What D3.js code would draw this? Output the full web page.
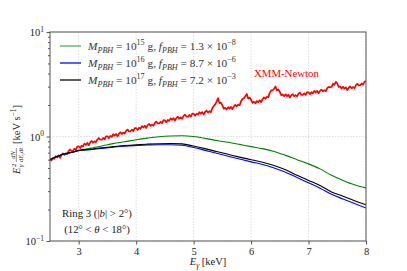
<!DOCTYPE html>
<html><head><meta charset="utf-8">
<script src="https://cdn.jsdelivr.net/npm/d3@7"></script>
<style>
html,body{margin:0;padding:0;background:#fff;}
svg{display:block;}
text{font-family:"Liberation Serif","DejaVu Serif",serif;}
</style></head>
<body>
<svg id="c" width="407" height="271"></svg>
<script>
// ---------- data ----------
const xTicks = [3, 4, 5, 6, 7, 8];
const yMajorTicks = [0.1, 1, 10];
const yTickExp = ["−1", "0", "1"];

// XMM-Newton spectrum (energy keV, value)
const xmmEnergy = [2.5,2.525,2.55,2.575,2.6,2.625,2.65,2.675,2.7,2.725,2.75,2.775,2.8,2.825,2.85,2.875,2.9,2.925,2.95,2.975,
3.0,3.025,3.05,3.075,3.1,3.125,3.15,3.175,3.2,3.225,3.25,3.275,3.3,3.325,3.35,3.375,3.4,3.425,3.45,3.475,
3.5,3.525,3.55,3.575,3.6,3.625,3.65,3.675,3.7,3.725,3.75,3.775,3.8,3.825,3.85,3.875,3.9,3.925,3.95,3.975,
4.0,4.025,4.05,4.075,4.1,4.125,4.15,4.175,4.2,4.225,4.25,4.275,4.3,4.325,4.35,4.375,4.4,4.425,4.45,4.475,
4.5,4.525,4.55,4.575,4.6,4.625,4.65,4.675,4.7,4.725,4.75,4.775,4.8,4.825,4.85,4.875,4.9,4.925,4.95,4.975,
5.0,5.025,5.05,5.075,5.1,5.125,5.15,5.175,5.2,5.225,5.25,5.275,5.3,5.325,5.35,5.375,5.4,5.425,5.45,5.475,
5.5,5.525,5.55,5.575,5.6,5.625,5.65,5.675,5.7,5.725,5.75,5.775,5.8,5.825,5.85,5.875,5.9,5.925,5.95,5.975,
6.0,6.025,6.05,6.075,6.1,6.125,6.15,6.175,6.2,6.225,6.25,6.275,6.3,6.325,6.35,6.375,6.4,6.425,6.45,6.475,
6.5,6.525,6.55,6.575,6.6,6.625,6.65,6.675,6.7,6.725,6.75,6.775,6.8,6.825,6.85,6.875,6.9,6.925,6.95,6.975,
7.0,7.025,7.05,7.075,7.1,7.125,7.15,7.175,7.2,7.225,7.25,7.275,7.3,7.325,7.35,7.375,7.4,7.425,7.45,7.475,
7.5,7.525,7.55,7.575,7.6,7.625,7.65,7.675,7.7,7.725,7.75,7.775,7.8,7.825,7.85,7.875,7.9,7.925,7.95,7.975,8.0];
const xmmValue = [0.612,0.589,0.621,0.610,0.649,0.631,0.658,0.626,0.667,0.690,0.666,0.690,0.679,0.725,0.751,0.727,0.730,0.764,0.744,0.802,
0.806,0.776,0.818,0.804,0.855,0.832,0.867,0.826,0.879,0.906,0.872,0.900,0.883,0.938,0.967,0.931,0.931,0.968,0.938,1.005,
1.005,0.964,1.013,0.991,1.051,1.019,1.058,1.004,1.066,1.098,1.056,1.089,1.067,1.132,1.165,1.119,1.117,1.162,1.125,1.205,
1.204,1.154,1.212,1.186,1.257,1.220,1.270,1.207,1.283,1.318,1.264,1.300,1.271,1.349,1.388,1.334,1.333,1.384,1.339,1.432,
1.428,1.370,1.439,1.409,1.494,1.445,1.499,1.421,1.505,1.545,1.480,1.520,1.484,1.573,1.617,1.552,1.548,1.606,1.552,1.658,
1.652,1.581,1.656,1.617,1.710,1.653,1.714,1.622,1.717,1.766,1.695,1.745,1.707,1.867,1.957,2.030,2.156,2.326,2.086,2.112,
1.989,1.848,1.879,1.818,1.906,1.849,1.923,1.826,1.939,2.011,1.945,2.018,1.989,2.178,2.287,2.327,2.430,2.550,2.309,2.359,
2.244,2.100,2.151,2.083,2.184,2.131,2.229,2.129,2.273,2.369,2.303,2.400,2.377,2.616,2.760,2.772,2.862,3.009,2.765,2.817,
2.672,2.483,2.525,2.430,2.534,2.435,2.509,2.362,2.485,2.544,2.430,2.490,2.425,2.563,2.626,2.512,2.499,2.588,2.498,2.665,
2.652,2.534,2.651,2.585,2.730,2.638,2.734,2.587,2.737,2.814,2.700,2.778,2.716,2.907,2.987,2.945,2.989,3.198,3.123,3.337,
3.213,2.973,3.010,2.881,2.987,2.871,2.958,2.784,2.929,3.013,2.891,2.975,2.910,3.098,3.198,3.081,3.087,3.219,3.128,3.360,3.366];

// PBH model curves
const modelEnergy = [2.5,2.6,2.7,2.8,2.9,3.0,3.2,3.4,3.6,3.8,4.0,4.2,4.4,4.6,4.8,5.0,5.2,5.4,5.6,5.8,6.0,6.2,6.4,6.6,6.8,7.0,7.2,7.4,7.6,7.8,8.0];
const pbh15 = [0.60,0.635,0.67,0.69,0.71,0.737,0.77,0.81,0.855,0.89,0.93,0.965,0.995,1.012,1.018,1.0,0.96,0.915,0.88,0.84,0.80,0.765,0.72,0.66,0.60,0.547,0.49,0.425,0.38,0.345,0.322];
const pbh16 = [0.60,0.635,0.67,0.69,0.708,0.73,0.748,0.77,0.79,0.808,0.82,0.83,0.835,0.835,0.825,0.785,0.737,0.69,0.648,0.608,0.572,0.54,0.50,0.455,0.405,0.36,0.32,0.28,0.252,0.228,0.207];
const pbh17 = [0.60,0.635,0.67,0.69,0.71,0.735,0.755,0.78,0.80,0.82,0.835,0.845,0.853,0.857,0.85,0.81,0.765,0.718,0.675,0.635,0.60,0.567,0.528,0.48,0.425,0.38,0.34,0.295,0.268,0.243,0.222];

const seriesNames = [
  {mass:"15", f:"1.3", fexp:"−8", color:"#008000", data:pbh15},
  {mass:"16", f:"8.7", fexp:"−6", color:"#0000ff", data:pbh16},
  {mass:"17", f:"7.2", fexp:"−3", color:"#000000", data:pbh17}
];

// ---------- drawing ----------
const svg = d3.select("#c");
const L = 50, R = 366, T = 32, B = 241;
const x = d3.scaleLinear().domain([2.5, 8]).range([L, R]);
const y = d3.scaleLog().domain([0.1, 10]).range([B, T]);

const defs = svg.append("defs");
defs.append("clipPath").attr("id","clip").append("rect")
  .attr("x", L).attr("y", T).attr("width", R - L).attr("height", B - T);

// grid
const grid = svg.append("g").attr("stroke","#d4d4d4").attr("stroke-width",0.8).attr("stroke-dasharray","1.5,1.5");
xTicks.forEach(t => grid.append("line").attr("x1", x(t)).attr("x2", x(t)).attr("y1", T).attr("y2", B));
yMajorTicks.forEach(t => grid.append("line").attr("x1", L).attr("x2", R).attr("y1", y(t)).attr("y2", y(t)));

// data lines
const plot = svg.append("g").attr("clip-path","url(#clip)");
const xmmPts = xmmEnergy.map((e,i)=>[e, xmmValue[i]]);
plot.append("path").datum(xmmPts)
  .attr("fill","none").attr("stroke","#ff0000").attr("stroke-width",1.7).attr("stroke-linejoin","round")
  .attr("d", d3.line().x(d=>x(d[0])).y(d=>y(d[1])));

const modelLine = d3.line().x(d=>x(d[0])).y(d=>y(d[1])).curve(d3.curveMonotoneX);
seriesNames.forEach(s => {
  plot.append("path").datum(modelEnergy.map((e,i)=>[e, s.data[i]]))
    .attr("fill","none").attr("stroke", s.color).attr("stroke-width",1.1)
    .attr("d", modelLine);
});

// axes
const axisColor = "#555";
const xAxis = svg.append("g").attr("transform",`translate(0,${B})`)
  .call(d3.axisBottom(x).tickValues(xTicks).tickSize(3.5).tickPadding(3).tickFormat(d3.format("d")));
xAxis.select(".domain").remove();
xAxis.selectAll("line").attr("stroke", axisColor);
xAxis.selectAll("text").attr("font-size",10.5).attr("fill","#222").attr("font-family","Liberation Serif");

const minor = [];
[0.1, 1].forEach(d => { for (let k = 2; k <= 9; k++) minor.push(d * k); });
const yMinor = svg.append("g").attr("transform",`translate(${L},0)`)
  .call(d3.axisLeft(y).tickValues(minor).tickSize(2).tickFormat(""));
yMinor.select(".domain").remove();
yMinor.selectAll("line").attr("stroke", axisColor);

const yAxis = svg.append("g").attr("transform",`translate(${L},0)`)
  .call(d3.axisLeft(y).tickValues(yMajorTicks).tickSize(3.5).tickFormat(""));
yAxis.select(".domain").remove();
yAxis.selectAll("line").attr("stroke", axisColor);
yMajorTicks.forEach((t,i) => {
  const tx = svg.append("text").attr("x", L - 6).attr("y", y(t) + 4).attr("text-anchor","end")
    .attr("font-size",10.5).attr("fill","#222");
  tx.append("tspan").text("10");
  tx.append("tspan").attr("dy",-4.5).attr("font-size",7.5).text(yTickExp[i]);
});

// frame
svg.append("rect").attr("x", L).attr("y", T).attr("width", R - L).attr("height", B - T)
  .attr("fill","none").attr("stroke", axisColor).attr("stroke-width",1);

// rich text helper
function rich(g, xPos, yPos, parts, size, anchor, color) {
  const t = g.append("text").attr("x", xPos).attr("y", yPos).attr("font-size", size)
    .attr("fill", color || "#222").attr("text-anchor", anchor || "start");
  let off = 0;
  parts.forEach(p => {
    let target = 0, fs = size;
    if (p.pos === "sub") { target = size * 0.3; fs = size * 0.72; }
    if (p.pos === "sup") { target = -size * 0.42; fs = size * 0.72; }
    const ts = t.append("tspan").attr("dy", target - off).attr("font-size", fs).text(p.t);
    if (p.i) ts.attr("font-style","italic");
    off = target;
  });
  return t;
}

// legend
const leg = svg.append("g");
seriesNames.forEach((s, i) => {
  const ly = 46 + i * 17;
  leg.append("line").attr("x1", 60).attr("x2", 81).attr("y1", ly).attr("y2", ly)
    .attr("stroke", s.color).attr("stroke-width", 1.4).attr("opacity", i === 0 ? 0.6 : 0.9);
  rich(leg, 88, ly + 4, [
    {t:"M", i:true}, {t:"PBH", i:true, pos:"sub"}, {t:" = 10"}, {t:s.mass, pos:"sup"},
    {t:" g, "}, {t:"f", i:true}, {t:"PBH", i:true, pos:"sub"}, {t:" = " + s.f + " × 10"}, {t:s.fexp, pos:"sup"}
  ], 11.3, "start", "#333");
});

// XMM label
svg.append("text").attr("x", 254).attr("y", 77).attr("font-size", 10.8).attr("fill","#ff0000").text("XMM-Newton");

// Ring annotation
rich(svg, 97, 217, [{t:"Ring 3 (|"}, {t:"b", i:true}, {t:"| > 2°)"}], 10.8, "middle");
rich(svg, 97, 233, [{t:"(12° < "}, {t:"θ", i:true}, {t:" < 18°)"}], 10.8, "middle");

// x label
rich(svg, 208, 265, [{t:"E", i:true}, {t:"γ", i:true, pos:"sub"}, {t:" [keV]"}], 10.5, "middle");

// y label (rotated)
const yl = svg.append("g").attr("transform","translate(16,136) rotate(-90)");
yl.append("text").attr("x",-38).attr("y",4).attr("font-size",10.5).attr("font-style","italic").attr("fill","#222").text("E");
yl.append("text").attr("x",-31).attr("y",-0.5).attr("font-size",7).attr("fill","#222").text("2");
yl.append("text").attr("x",-31).attr("y",7).attr("font-size",7).attr("font-style","italic").attr("fill","#222").text("γ");
yl.append("text").attr("x",-19).attr("y",-1.5).attr("font-size",6.5).attr("font-style","italic").attr("text-anchor","middle").attr("fill","#222").text("dN");
yl.append("line").attr("x1",-26).attr("x2",-12).attr("y1",0.3).attr("y2",0.3).attr("stroke","#222").attr("stroke-width",0.5);
const den = yl.append("text").attr("x",-19).attr("y",6.5).attr("font-size",6.5).attr("font-style","italic").attr("text-anchor","middle").attr("fill","#222");
den.append("tspan").text("dE");
den.append("tspan").attr("dy",1.5).attr("font-size",4.5).text("γ");
den.append("tspan").attr("dy",-1.5).text("dt");
rich(yl, -8, 4, [{t:"[keV s"}, {t:"−1", pos:"sup"}, {t:"]"}], 10.5, "start");
</script>
</body></html>
